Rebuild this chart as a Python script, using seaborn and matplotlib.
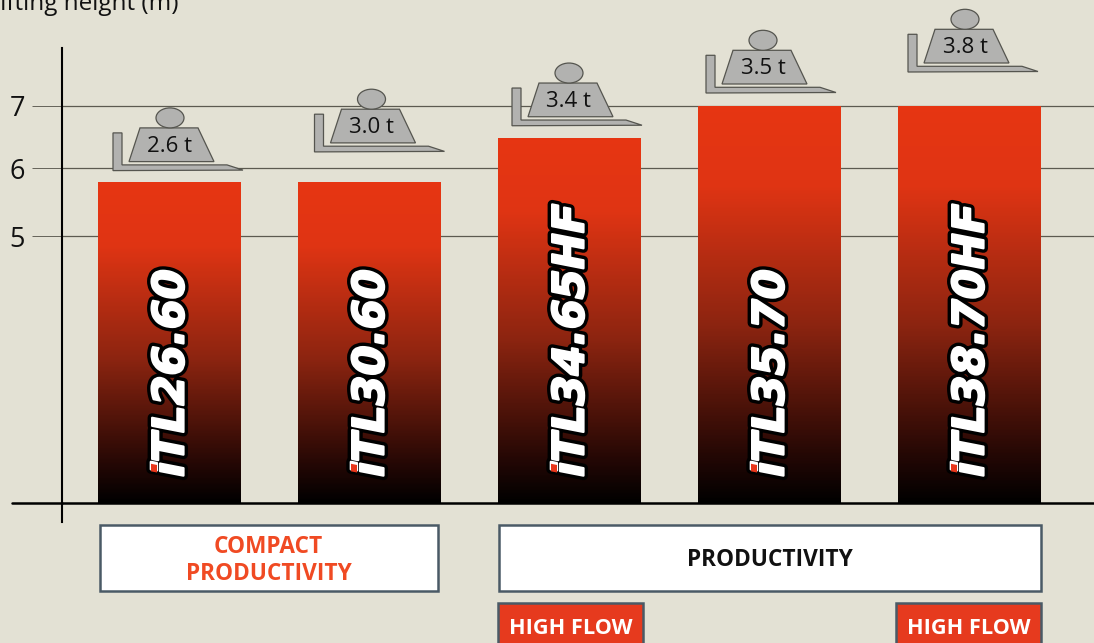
import numpy as np
import matplotlib
matplotlib.use("Agg")
import matplotlib.pyplot as plt
import matplotlib.patheffects as pe
from matplotlib.colors import LinearSegmentedColormap
from matplotlib.patches import Ellipse, Polygon, Rectangle
from matplotlib.transforms import Affine2D, IdentityTransform
from matplotlib.lines import Line2D
import seaborn as sns

models = ["iTL26.60", "iTL30.60", "iTL34.65HF", "iTL35.70", "iTL38.70HF"]
lift_heights = [5.8, 5.8, 6.48, 7.0, 7.0]
capacities = ["2.6 t", "3.0 t", "3.4 t", "3.5 t", "3.8 t"]
y_ticks = [5, 6, 7]
y_label = "lifting height (m)"

BG = "#e3e1d4"
RED = "#e63512"
W, H = 1094, 643
sns.set_theme(style="white")
plt.rcParams["font.family"] = ["Open Sans", "DejaVu Sans"]

fig = plt.figure(figsize=(W / 100, H / 100), dpi=100, facecolor=BG)
ax = fig.add_axes([62 / W, (H - 522) / H, (W - 62) / W, (522 - 48) / H], facecolor=BG)

V = [-1, 0, 5, 6, 7, 8]
P = [-56, 0, 267, 335, 397, 459]
ax.set_yscale("function", functions=(lambda v: np.interp(v, V, P), lambda p: np.interp(p, P, V)))

sns.barplot(x=models, y=lift_heights, color=RED, saturation=1, width=0.715, ax=ax, zorder=2,
            linewidth=0, edgecolor="none")
ax.set_xlim((62 - 169.5) / 200, (W - 169.5) / 200)
ax.set_ylim(-19 / 56, 7 + 58 / 62)
ax.set_xticks([])
ax.set_yticks(y_ticks)
ax.minorticks_off()
ax.yaxis.grid(True, color="#5c5a50", lw=0.9)
ax.set_axisbelow(True)
ax.tick_params(axis="y", left=True, length=21.6, width=0.65, color="#5c5a50", pad=5,
               labelsize=19.5, labelcolor="#111111")
for s in ("top", "right"):
    ax.spines[s].set_visible(False)
ax.spines["left"].set(color="black", lw=1.5)
ax.spines["bottom"].set_position(("data", 0))
ax.spines["bottom"].set(color="black", lw=1.8, zorder=6)

fig.canvas.draw()
px = Affine2D().scale(1, -1).translate(0, H)  # top-left pixel coordinates

fig.add_artist(Line2D([12, 62], [503, 503], transform=px, color="black", lw=1.8))
fig.text(179, 10, y_label, transform=px, ha="right", va="baseline", fontsize=17.5, color="#111111")

cmap = LinearSegmentedColormap.from_list(
    "bar", [(0, "#000000"), (0.12, "#240704"), (0.45, "#8c2410"), (0.8, "#df3413"), (1, RED)])

forks_left = [-56.5, -55, -57.5, -63.5, -61.5]
icon_lift = [11, 29.7, 12.5, 13, 34]
ICON = "#b2b2b0"
EDGE = "#55554f"

badge_fx = [pe.Stroke(linewidth=6.5, foreground="black"),
            pe.Stroke(linewidth=1.6, foreground="white"),
            pe.Normal()]

for i, bar in enumerate(ax.patches):
    x0, w, h = bar.get_x(), bar.get_width(), bar.get_height()
    (cx, top) = ax.transData.transform((x0 + w / 2, h))
    (_, bot) = ax.transData.transform((x0, 0))
    rows = np.linspace(bot, top, 257)
    ys = ax.transData.inverted().transform(np.c_[np.full(257, cx), rows])[:, 1]
    z = np.linspace(0, 1, 256)[:, None]
    ax.pcolormesh([x0, x0 + w], ys, z, cmap=cmap, vmin=0, vmax=1, zorder=3,
                  shading="flat", antialiased=False, edgecolors="none", linewidth=0)

    kw = dict(xy=(x0 + w / 2, 0), xytext=(2, 26), textcoords="offset pixels", rotation=90,
              ha="center", va="bottom", fontsize=31, family="DejaVu Sans",
              weight="bold", style="oblique")
    ax.annotate(models[i], color="white", zorder=5, path_effects=badge_fx, **kw)
    # red dot of the i: the first glyph only, clipped to its dot
    dot = ax.annotate(models[i][0], color="#e8351a", zorder=5.5,
                      **{**kw, "ha": "center"}, annotation_clip=False)
    dot.set_visible(False)
    # same label redrawn in red and restricted to the dot's pixels
    red = ax.annotate(models[i], color="#e8351a", zorder=5.5, **kw)
    red.set_clip_path(Rectangle((cx - 30, bot + 26), 20.5, 14.5, transform=IdentityTransform()))
    red.set_clip_on(True)

    # fork + weight icon (top-left pixel coordinates relative to the fork)
    yb = H - top - icon_lift[i]
    l = cx + forks_left[i]
    fork = [(l, yb - 37.7), (l + 9, yb - 37.7), (l + 9, yb - 5.7), (l + 114, yb - 5.7),
            (l + 130, yb - 0.5), (l, yb)]
    trap = [(l + 16, yb - 9), (l + 27, yb - 42.7), (l + 85, yb - 42.7), (l + 101, yb - 9)]
    for pts in (fork, trap):
        fig.add_artist(Polygon(pts, closed=True, transform=px, fc=ICON, ec=EDGE, lw=0.9, zorder=7))
    fig.add_artist(Ellipse((l + 57, yb - 52.7), 28, 20, transform=px, fc=ICON, ec=EDGE, lw=0.9, zorder=7))
    fig.text(l + 57, yb - 18.7, capacities[i], transform=px, ha="center", va="baseline",
             fontsize=16, color="#111111", zorder=8)

# category boxes
BORDER = "#4a5a66"
FLOW = "#e63a1e"
for (x1, x2, y1, y2, fc, lab, col) in [
    (99.5, 437.5, 525, 591, "white", "COMPACT\nPRODUCTIVITY", "#f04a23"),
    (498.5, 1041, 525, 591, "white", "PRODUCTIVITY", "#111111"),
    (498, 643, 603, 650, FLOW, "HIGH FLOW", "white"),
    (896, 1041, 603, 650, FLOW, "HIGH FLOW", "white"),
]:
    fig.add_artist(Rectangle((x1, y1), x2 - x1, y2 - y1, transform=px, fc=fc, ec=BORDER, lw=1.8))
    yc = 628 if "FLOW" in lab else (y1 + y2) / 2 + 2.5
    fig.text((x1 + x2) / 2, yc, lab, transform=px, ha="center", va="center",
             fontsize=15.6 if "FLOW" in lab else 16.3,
             weight="bold", color=col, linespacing=1.18)

fig.savefig("out.png", dpi=100, facecolor=BG)
